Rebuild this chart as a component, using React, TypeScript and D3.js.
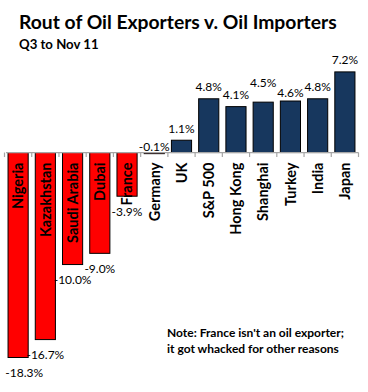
import React from "react";
import * as d3 from "d3";

const categories = ["Nigeria", "Kazakhstan", "Saudi Arabia", "Dubai", "France", "Germany", "UK", "S&P 500", "Hong Kong", "Shanghai", "Turkey", "India", "Japan"];
const values = [-18.3, -16.7, -10.0, -9.0, -3.9, -0.1, 1.1, 4.8, 4.1, 4.5, 4.6, 4.8, 7.2];
const exporters = ["Nigeria", "Kazakhstan", "Saudi Arabia", "Dubai", "France", "Germany"];
const title = "Rout of Oil Exporters v. Oil Importers";
const subtitle = "Q3 to Nov 11";
const noteLines = ["Note: France isn't an oil exporter;", "it got whacked for other reasons"];
const labelNudge: Record<string, number> = { Shanghai: -8, Turkey: 3 };

const W = 368;
const H = 392;
const FONT = "Lato, 'Open Sans', sans-serif";

export default function App() {
  const x = d3.scaleBand<string>().domain(categories).range([4.5, 358.5]).paddingInner(0.26).paddingOuter(0.13);
  const y = d3.scaleLinear().domain([-18.3, 7.2]).range([357.5, 71.9]);
  const y0 = y(0);
  const step = x.step();
  const bw = x.bandwidth();
  const tickXs = categories.map((c) => (x(c) as number) + bw / 2 + step / 2);
  tickXs.unshift((x(categories[0]) as number) + bw / 2 - step / 2);

  return (
    <svg width={W} height={H} style={{ position: "absolute", left: 0, top: 0, background: "#fff" }} fontFamily={FONT}>
      <rect x={0} y={0} width={W} height={H} fill="#fff" />
      <text x={19} y={28.5} fontSize={19.3} fontWeight={700} fill="#000">{title}</text>
      <text x={19} y={48.5} fontSize={13.2} fontWeight={700} fill="#000">{subtitle}</text>

      {categories.map((c, i) => {
        const v = values[i];
        const bx = x(c) as number;
        const top = Math.min(y(v), y0);
        const h = Math.abs(y(v) - y0);
        const neg = exporters.includes(c);
        return (
          <rect key={c} x={bx} y={top} width={bw} height={Math.max(h, 1)} fill={neg ? "#FF0000" : "#17375E"} stroke="#000" strokeWidth={1} />
        );
      })}

      <line x1={6} x2={358.5} y1={y0} y2={y0} stroke="#A6A6A6" strokeWidth={1.2} />
      {tickXs.map((tx, i) => (
        <line key={i} x1={tx} x2={tx} y1={y0} y2={y0 + 4.5} stroke="#A6A6A6" strokeWidth={1.2} />
      ))}

      {categories.map((c) => {
        const cx = (x(c) as number) + bw / 2;
        return (
          <text key={c} transform={`translate(${cx},${y0 + 10}) rotate(-90)`} textAnchor="end" dy="0.36em" fontSize={14.5} fontWeight={700} fill="#000">{c}</text>
        );
      })}

      {categories.map((c, i) => {
        const v = values[i];
        const cx = (x(c) as number) + bw / 2;
        const label = v.toFixed(1) + "%";
        const half = label.length * 3.2;
        let lx = Math.max(cx, 5 + half);
        let ly: number;
        if (Math.abs(v) < 0.5) {
          ly = y0 - 2;
          lx = cx;
        } else if (v > 0) {
          ly = y(v) - 7.5 + (labelNudge[c] || 0);
        } else {
          ly = y(v) + 19.5 + (labelNudge[c] || 0);
        }
        return (
          <text key={c} x={lx} y={ly} textAnchor="middle" fontSize={12} fill="#000">{label}</text>
        );
      })}

      {noteLines.map((t, i) => (
        <text key={i} x={167} y={336.7 + i * 16.5} fontSize={12} fontWeight={700} fill="#000">{t}</text>
      ))}
    </svg>
  );
}
